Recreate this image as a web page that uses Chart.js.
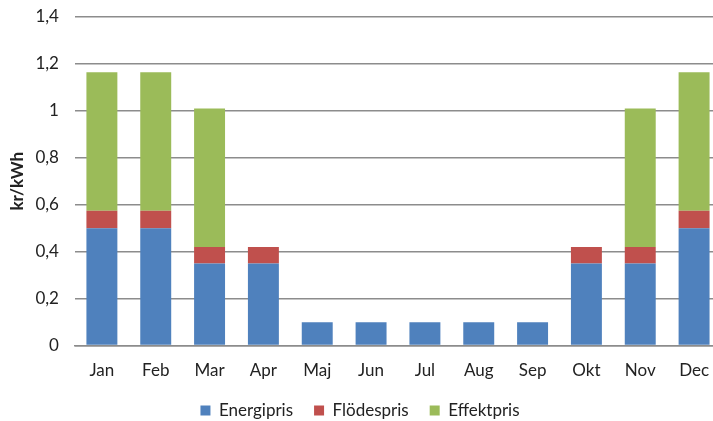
<!DOCTYPE html>
<html>
<head>
<meta charset="utf-8">
<script src="https://cdn.jsdelivr.net/npm/chart.js@4"></script>
<style>
  body { margin: 0; background: #fff; }
  #wrap { width: 713px; height: 421px; }
</style>
</head>
<body>
<div id="wrap"><canvas id="chart"></canvas></div>
<script>
const months = ['Jan', 'Feb', 'Mar', 'Apr', 'Maj', 'Jun', 'Jul', 'Aug', 'Sep', 'Okt', 'Nov', 'Dec'];
const energipris = [0.5, 0.5, 0.35, 0.35, 0.1, 0.1, 0.1, 0.1, 0.1, 0.35, 0.35, 0.5];
const flodespris = [0.075, 0.075, 0.07, 0.07, 0, 0, 0, 0, 0, 0.07, 0.07, 0.075];
const effektpris = [0.59, 0.59, 0.59, 0, 0, 0, 0, 0, 0, 0, 0.59, 0.59];

const font = "Lato, 'Open Sans', sans-serif";
const gridColor = '#8c8c8c';

const makeSet = (label, data, color) => ({
    label: label,
    data: data,
    backgroundColor: color,
    borderWidth: 0,
    categoryPercentage: 1,
    barPercentage: 0.575
});

// the original plot runs a little past the right edge of the picture
const stretchRight = {
    id: 'stretchRight',
    afterLayout(chart) {
        const x = chart.scales.x;
        chart.chartArea.right += 8;
        x.right += 8;
        x.width += 8;
        x.configure();
    }
};

window.onload = () => {
    const ctx = document.getElementById('chart').getContext('2d');
    new Chart(ctx, {
        type: 'bar',
        data: {
            labels: months,
            datasets: [
                makeSet('Energipris', energipris, '#4f81bd'),
                makeSet('Flödespris', flodespris, '#c0504d'),
                makeSet('Effektpris', effektpris, '#9bbb59')
            ]
        },
        plugins: [stretchRight],
        options: {
            responsive: true,
            maintainAspectRatio: false,
            animation: false,
            layout: { padding: { top: 17, right: 0, left: 7, bottom: -8 } },
            scales: {
                x: {
                    stacked: true,
                    grid: { display: false, tickLength: 15 },
                    border: { display: true, color: gridColor, width: 1.5 },
                    ticks: { color: '#222', font: { family: font, size: 17 }, padding: 0 }
                },
                y: {
                    stacked: true,
                    min: 0,
                    max: 1.4,
                    grid: { color: gridColor, lineWidth: 1.5, drawTicks: true, tickLength: 12, tickColor: 'transparent' },
                    border: { display: false },
                    ticks: {
                        stepSize: 0.2,
                        color: '#222',
                        padding: 4,
                        font: { family: font, size: 17 },
                        callback: (v) => String(Math.round(v * 10) / 10).replace('.', ',')
                    },
                    title: {
                        display: true,
                        text: 'kr/kWh',
                        color: '#222',
                        font: { family: font, size: 17, weight: 'bold' },
                        padding: { top: 0, bottom: 4 }
                    }
                }
            },
            plugins: {
                legend: {
                    position: 'bottom',
                    labels: {
                        boxWidth: 10,
                        boxHeight: 10,
                        padding: 21,
                        color: '#222',
                        font: { family: font, size: 17 }
                    }
                },
                tooltip: { enabled: false }
            }
        }
    });
};
</script>
</body>
</html>
